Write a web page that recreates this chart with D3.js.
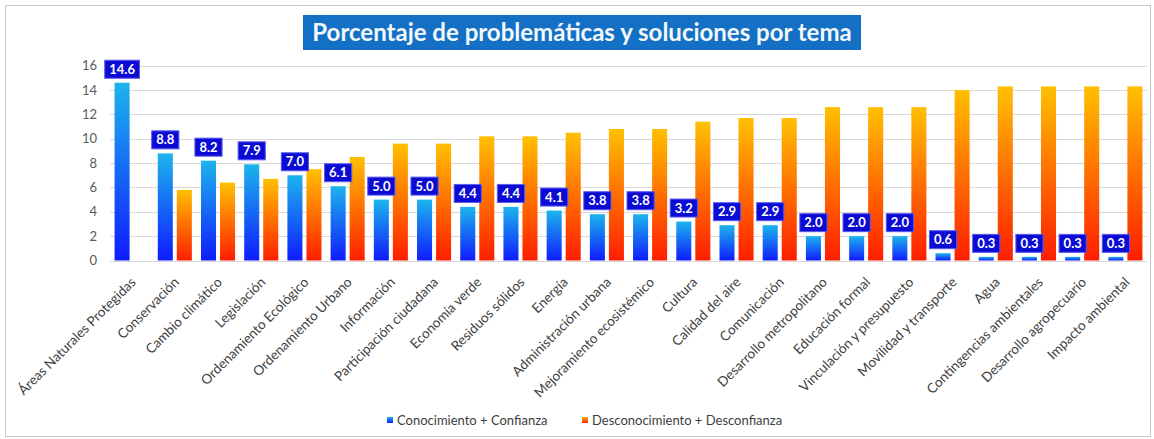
<!DOCTYPE html>
<meta charset="utf-8">
<style>
body { margin: 0; background: #fff; }
text { font-family: Lato, 'Open Sans', sans-serif; }
</style>
<body>
<svg width="1154" height="439"></svg>
<script src="https://d3js.org/d3.v7.min.js"></script>
<script>

var categories = ["Áreas Naturales Protegidas", "Conservación", "Cambio climático", "Legislación",
  "Ordenamiento Ecológico", "Ordenamiento Urbano", "Información", "Participación ciudadana",
  "Economía verde", "Residuos sólidos", "Energía", "Administración urbana",
  "Mejoramiento ecosistémico", "Cultura", "Calidad del aire", "Comunicación",
  "Desarrollo metropolitano", "Educación formal", "Vinculación y presupuesto",
  "Movilidad y transporte", "Agua", "Contingencias ambientales", "Desarrollo agropecuario",
  "Impacto ambiental"];

var conocimiento = [14.6, 8.8, 8.2, 7.9, 7.0, 6.1, 5.0, 5.0, 4.4, 4.4, 4.1, 3.8,
  3.8, 3.2, 2.9, 2.9, 2.0, 2.0, 2.0, 0.6, 0.3, 0.3, 0.3, 0.3];

var desconocimiento = [0, 5.8, 6.4, 6.7, 7.5, 8.5, 9.6, 9.6, 10.2, 10.2, 10.5, 10.8,
  10.8, 11.4, 11.7, 11.7, 12.6, 12.6, 12.6, 14.0, 14.3, 14.3, 14.3, 14.3];

var seriesNames = ["Conocimiento + Confianza", "Desconocimiento + Desconfianza"];
var yTicks = [0, 2, 4, 6, 8, 10, 12, 14, 16];

var svg = d3.select("svg");

var defs = svg.append("defs");
var gBlue = defs.append("linearGradient").attr("id", "gBlue").attr("x1", 0).attr("y1", 0).attr("x2", 0).attr("y2", 1);
gBlue.append("stop").attr("offset", "0%").attr("stop-color", "#1cb4ec");
gBlue.append("stop").attr("offset", "100%").attr("stop-color", "#0f1cff");
var gOrange = defs.append("linearGradient").attr("id", "gOrange").attr("x1", 0).attr("y1", 0).attr("x2", 0).attr("y2", 1);
gOrange.append("stop").attr("offset", "0%").attr("stop-color", "#ffc000");
gOrange.append("stop").attr("offset", "100%").attr("stop-color", "#ff1e00");

// chart border
svg.append("rect")
  .attr("x", 5.5).attr("y", 5.5)
  .attr("width", 1145).attr("height", 431)
  .attr("fill", "none").attr("stroke", "#c8c8c8");

var x = d3.scaleBand().domain(categories).range([110, 1147]).padding(0);
var xs = d3.scaleBand().domain([0, 1]).range([0, x.bandwidth()]).paddingInner(0.21).paddingOuter(0.24);
var y = d3.scaleLinear().domain([0, 16]).range([260.5, 65.7]);

// gridlines
svg.append("g").selectAll("line")
  .data(yTicks)
  .join("line")
  .attr("x1", 110).attr("x2", 1147)
  .attr("y1", d => Math.round(y(d)) + 0.5).attr("y2", d => Math.round(y(d)) + 0.5)
  .attr("stroke", "#d9d9d9").attr("stroke-width", 1.2);

// y axis labels
svg.append("g").selectAll("text")
  .data(yTicks)
  .join("text")
  .attr("x", 97).attr("y", d => y(d) + 4.5)
  .attr("text-anchor", "end")
  .attr("font-size", 13)
  .attr("fill", "#595959")
  .text(d => d);

var rows = categories.map((c, i) => ({cat: c, vals: [conocimiento[i], desconocimiento[i]]}));

var groups = svg.append("g").selectAll("g")
  .data(rows)
  .join("g")
  .attr("transform", d => "translate(" + x(d.cat) + ",0)");

groups.selectAll("rect")
  .data(d => d.vals.map((v, k) => ({k: k, v: v})))
  .join("rect")
  .attr("x", d => xs(d.k))
  .attr("width", xs.bandwidth())
  .attr("y", d => y(d.v))
  .attr("height", d => y(0) - y(d.v))
  .attr("fill", d => d.k === 0 ? "url(#gBlue)" : "url(#gOrange)");

// data labels for the first series
var labels = groups.append("g")
  .attr("transform", d => "translate(" + (xs(0) + xs.bandwidth() / 2) + "," + (y(d.vals[0]) - 13.5) + ")");

labels.append("text")
  .attr("text-anchor", "middle")
  .attr("font-size", 13)
  .attr("font-weight", "bold")
  .attr("fill", "#fff")
  .text(d => d.vals[0].toFixed(1));

labels.each(function() {
  var g = d3.select(this),
      w = g.select("text").node().getComputedTextLength() + 9;
  g.insert("rect", "text")
    .attr("x", -w / 2).attr("y", -9)
    .attr("width", w).attr("height", 18)
    .attr("fill", "#0b0bd4")
    .attr("stroke", "#5a5af0").attr("stroke-width", 1);
  g.select("text").attr("y", 4.5);
});

// x labels
svg.append("g").selectAll("text")
  .data(categories)
  .join("text")
  .attr("transform", d => "translate(" + (x(d) + x.bandwidth() / 2 + 5) + ",283) rotate(-45)")
  .attr("text-anchor", "end")
  .attr("font-size", 13.5)
  .attr("fill", "#404040")
  .text(d => d);

// title
var title = svg.append("g");
title.append("rect")
  .attr("x", 303).attr("y", 15)
  .attr("width", 558).attr("height", 35)
  .attr("fill", "#1370c4");
title.append("text")
  .attr("x", 582).attr("y", 41)
  .attr("text-anchor", "middle")
  .attr("font-size", 24)
  .attr("font-weight", "bold")
  .attr("fill", "#f2f8fc")
  .text("Porcentaje de problemáticas y soluciones por tema");

// legend
var legendX = [387, 582];
var legend = svg.append("g").selectAll("g")
  .data(seriesNames)
  .join("g")
  .attr("transform", (d, i) => "translate(" + legendX[i] + ",417)");
legend.append("rect")
  .attr("width", 6).attr("height", 6)
  .attr("fill", (d, i) => i === 0 ? "url(#gBlue)" : "url(#gOrange)");
legend.append("text")
  .attr("x", 10).attr("y", 7.5)
  .attr("font-size", 13)
  .attr("fill", "#404040")
  .text(d => d);

</script>
</body>
